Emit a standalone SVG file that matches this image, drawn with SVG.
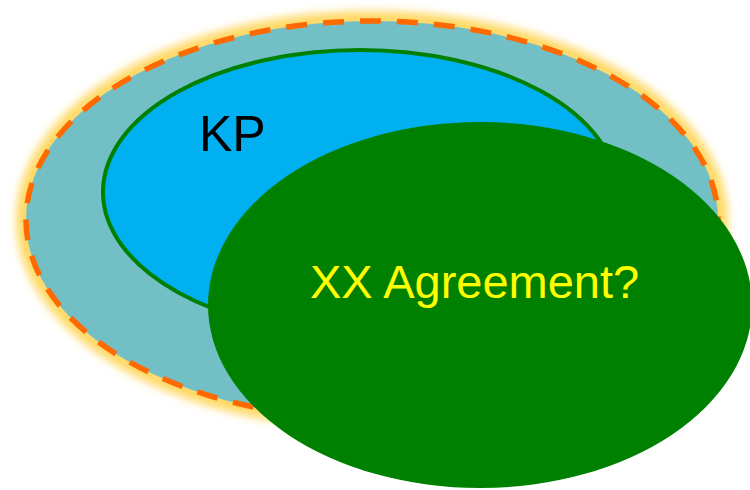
<svg xmlns="http://www.w3.org/2000/svg" width="750" height="490" viewBox="0 0 750 490">
<defs>
<style>
.lbl{font-family:"Liberation Sans",Arial,sans-serif}
</style>
<filter id="glow" x="-10%" y="-10%" width="120%" height="120%">
<feGaussianBlur stdDeviation="4.5"/>
</filter>
</defs>
<rect width="750" height="490" fill="#ffffff"/>
<g id="outer">
<ellipse cx="372" cy="220" rx="347" ry="200" fill="none" stroke="#FFD966" stroke-width="18" filter="url(#glow)"/>
<ellipse cx="372" cy="220" rx="346" ry="199" fill="#72BFC6" stroke="#FF6A00" stroke-width="5.5" stroke-dasharray="21,16"/>
</g>
<g id="kp">
<ellipse cx="360" cy="192" rx="257" ry="142" fill="#00B0F0" stroke="#008000" stroke-width="4"/>
<text class="lbl" x="199" y="151" font-size="50" fill="#000000">KP</text>
</g>
<g id="xx">
<ellipse cx="480" cy="305" rx="272" ry="183" fill="#008000"/>
<text class="lbl" x="310" y="298" font-size="47" fill="#FFFF00">XX Agreement?</text>
</g>
<g id="connectors"/>
</svg>
